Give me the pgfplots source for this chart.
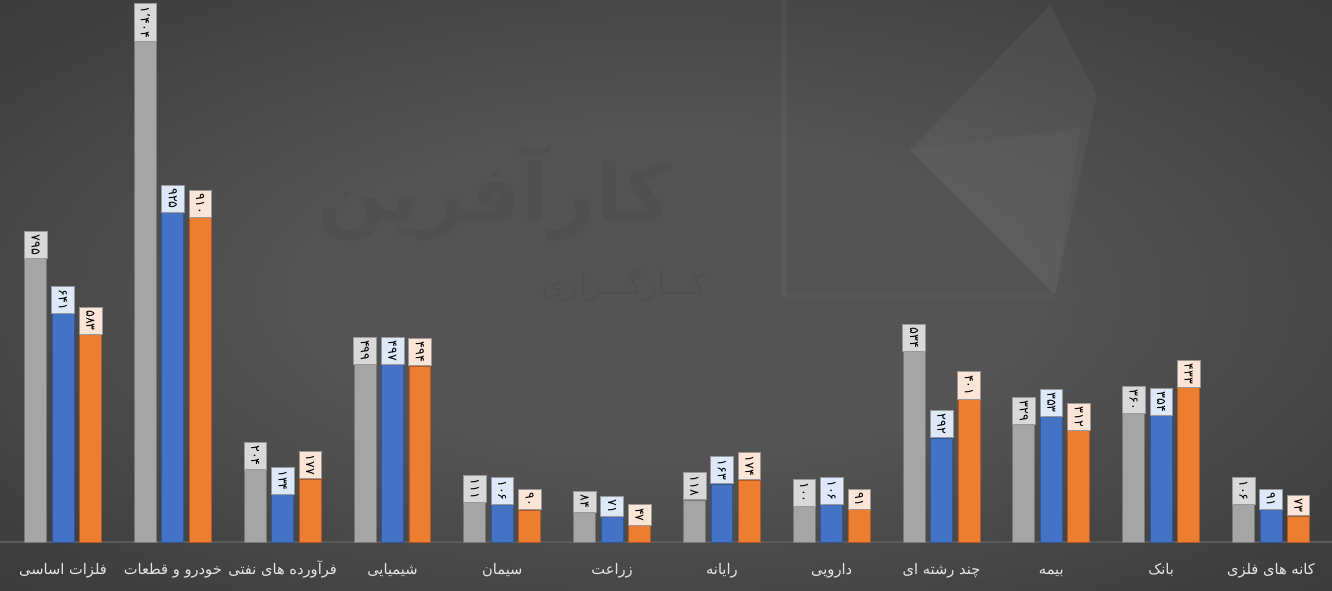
\documentclass[border=0pt]{standalone}
\usepackage{pgfplots}
\pgfplotsset{compat=1.18}
\usepackage{fontspec}
\setmainfont{DejaVu Sans}
\newfontfamily\fa[Script=Arabic]{DejaVu Sans}
\TeXXeTstate=1
\definecolor{bgA}{RGB}{84,84,84}
\definecolor{bgB}{RGB}{60,60,60}
\definecolor{bgC}{RGB}{36,36,36}
\definecolor{bgD}{RGB}{30,30,30}
\definecolor{cgray}{RGB}{165,165,165}
\definecolor{cgrayD}{RGB}{120,120,120}
\definecolor{cblue}{RGB}{68,114,196}
\definecolor{cblueD}{RGB}{50,85,150}
\definecolor{corange}{RGB}{237,125,49}
\definecolor{corangeD}{RGB}{175,90,35}
\definecolor{lgray}{RGB}{217,217,217}
\definecolor{lblue}{RGB}{221,233,248}
\definecolor{lorange}{RGB}{252,228,214}
\definecolor{axc}{RGB}{90,90,90}
\pgfdeclareradialshading{bgshade}{\pgfpoint{0bp}{0bp}}{color(0bp)=(bgA); color(14bp)=(bgA); color(34bp)=(bgB); color(52bp)=(bgC); color(72bp)=(bgD)}
\begin{document}
\begin{tikzpicture}
\shade[shading=bgshade] (0,-36pt) rectangle (999pt,406.5pt);
% faint watermark
\fill[white, opacity=0.045] (682.5pt,294pt) -- (787.5pt,402.75pt) -- (822.75pt,335.25pt) -- (791.25pt,185.25pt) -- cycle;
\fill[white, opacity=0.025] (682.5pt,294pt) -- (810pt,310pt) -- (791.25pt,185.25pt) -- cycle;
\fill[white, opacity=0.035] (586pt,185.25pt) rectangle (590pt,406.5pt);
\fill[white, opacity=0.02] (586pt,183pt) rectangle (791pt,187pt);
\node[font=\fa\bfseries\fontsize{60}{60}\selectfont, text=black, opacity=0.045] at (371pt,262pt) {\beginR کارآفرین\endR};
\node[font=\fa\fontsize{22}{22}\selectfont, text=black, opacity=0.045] at (468pt,193pt) {\beginR کـــارگـــزاری\endR};
\begin{axis}[
  at={(0,0)}, anchor=south west,
  scale only axis, width=999pt, height=406.5pt,
  xmin=-0.574, xmax=11.556, ymin=0, ymax=1521,
  axis y line=none,
  axis x line=bottom,
  axis line style={-, draw=axc, line width=1.2pt},
  xtick={0,...,11},
  major tick length=0pt,
  xticklabels={
    {\fa\beginR فلزات اساسی\endR},
    {\fa\beginR خودرو و قطعات\endR},
    {\fa\beginR فرآورده های نفتی\endR},
    {\fa\beginR شیمیایی\endR},
    {\fa\beginR سیمان\endR},
    {\fa\beginR زراعت\endR},
    {\fa\beginR رایانه\endR},
    {\fa\beginR دارویی\endR},
    {\fa\beginR چند رشته ای\endR},
    {\fa\beginR بیمه\endR},
    {\fa\beginR بانک\endR},
    {\fa\beginR کانه های فلزی\endR}},
  xticklabel style={font=\fa\fontsize{11}{11}\selectfont, text=white!90!black, anchor=base, yshift=-24.5pt},
  ytick=\empty,
  point meta=explicit symbolic,
  ybar, bar width=0.2,
  nodes near coords,
  every node near coord/.append style={rotate=-90, anchor=east, font=\fa\fontsize{9.5}{9.5}\selectfont, text=black, inner xsep=2.5pt, inner ysep=1pt, minimum height=17pt, draw=black!40, line width=0.4pt},
  clip=false,
]
\addplot[bar shift=-0.25, fill=cgray, draw=cgrayD, line width=0.6pt, every node near coord/.append style={fill=lgray}] coordinates {
(0,795) [۷۹۵] (1,1404) [۱٬۴۰۴] (2,204) [۲۰۴] (3,499) [۴۹۹] (4,111) [۱۱۱] (5,84) [۸۴]
(6,118) [۱۱۸] (7,100) [۱۰۰] (8,534) [۵۳۴] (9,329) [۳۲۹] (10,360) [۳۶۰] (11,106) [۱۰۶]
};
\addplot[bar shift=0, fill=cblue, draw=cblueD, line width=0.6pt, every node near coord/.append style={fill=lblue}] coordinates {
(0,641) [۶۴۱] (1,925) [۹۲۵] (2,134) [۱۳۴] (3,497) [۴۹۷] (4,106) [۱۰۶] (5,71) [۷۱]
(6,163) [۱۶۳] (7,106) [۱۰۶] (8,292) [۲۹۲] (9,353) [۳۵۳] (10,354) [۳۵۴] (11,91) [۹۱]
};
\addplot[bar shift=0.25, fill=corange, draw=corangeD, line width=0.6pt, every node near coord/.append style={fill=lorange}] coordinates {
(0,583) [۵۸۳] (1,910) [۹۱۰] (2,177) [۱۷۷] (3,494) [۴۹۴] (4,90) [۹۰] (5,47) [۴۷]
(6,174) [۱۷۴] (7,91) [۹۱] (8,401) [۴۰۱] (9,312) [۳۱۲] (10,433) [۴۳۳] (11,73) [۷۳]
};
\end{axis}
\pgfresetboundingbox
\path[use as bounding box] (0,-36pt) rectangle (999pt,406.5pt);
\end{tikzpicture}
\end{document}
